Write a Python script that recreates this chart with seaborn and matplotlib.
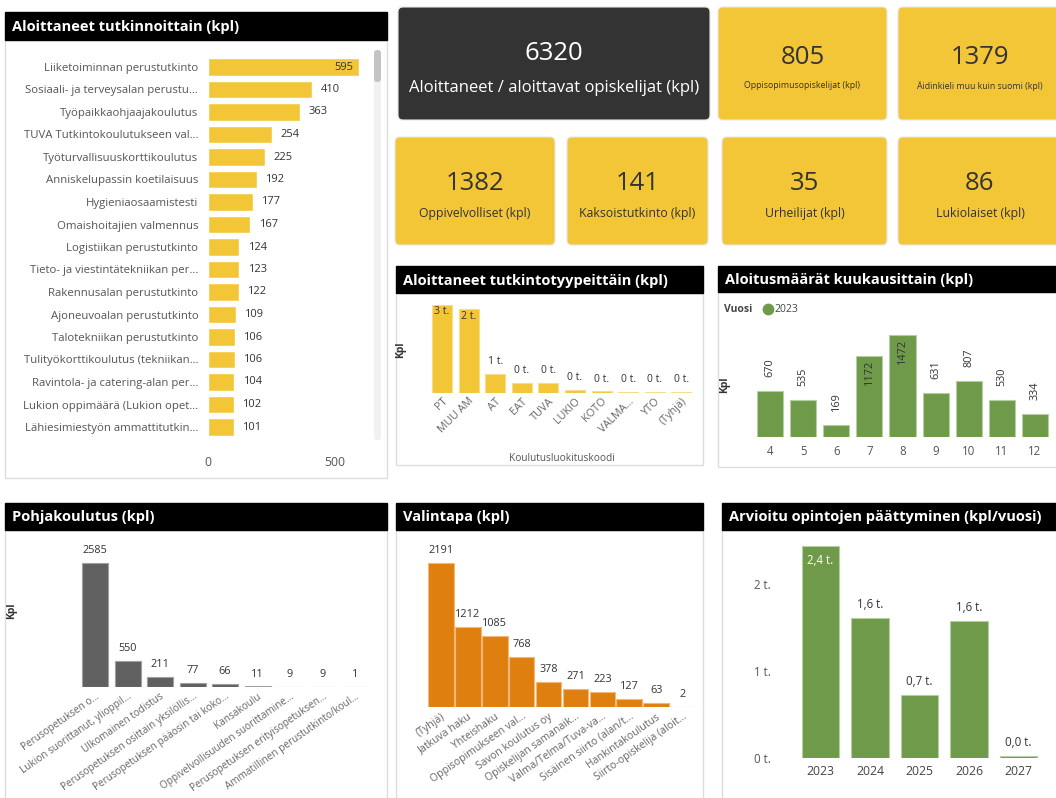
import numpy as np
import pandas as pd
import matplotlib.pyplot as plt
import seaborn as sns
from matplotlib.patches import Rectangle, FancyBboxPatch

W, H = 1056, 798

# data
degree_names = ["Liiketoiminnan perustutkinto", "Sosiaali- ja terveysalan perustu…",
                "Työpaikkaohjaajakoulutus", "TUVA Tutkintokoulutukseen val…",
                "Työturvallisuuskorttikoulutus", "Anniskelupassin koetilaisuus",
                "Hygieniaosaamistesti", "Omaishoitajien valmennus",
                "Logistiikan perustutkinto", "Tieto- ja viestintätekniikan per…",
                "Rakennusalan perustutkinto", "Ajoneuvoalan perustutkinto",
                "Talotekniikan perustutkinto", "Tulityökorttikoulutus (tekniikan…",
                "Ravintola- ja catering-alan per…", "Lukion oppimäärä (Lukion opet…",
                "Lähiesimiestyön ammattitutkin…"]
degree_counts = [595, 410, 363, 254, 225, 192, 177, 167, 124, 123, 122, 109, 106, 106, 104, 102, 101]

kpi_values = [6320, 805, 1379, 1382, 141, 35, 86]
kpi_labels = ["Aloittaneet / aloittavat opiskelijat (kpl)", "Oppisopimusopiskelijat (kpl)",
              "Äidinkieli muu kuin suomi (kpl)", "Oppivelvolliset (kpl)",
              "Kaksoistutkinto (kpl)", "Urheilijat (kpl)", "Lukiolaiset (kpl)"]

type_codes = ["PT", "MUU AM", "AT", "EAT", "TUVA", "LUKIO", "KOTO", "VALMA…", "YTO", "(Tyhjä)"]
type_counts = [2550, 2430, 560, 290, 290, 100, 45, 40, 35, 30]

months = [4, 5, 6, 7, 8, 9, 10, 11, 12]
month_counts = [670, 535, 169, 1172, 1472, 631, 807, 530, 334]

base_names = ["Perusopetuksen o…", "Lukion suorittanut, ylioppil…", "Ulkomainen todistus",
              "Perusopetuksen osittain yksilöllis…", "Perusopetuksen pääosin tai koko…",
              "Kansakoulu", "Oppivelvollisuuden suorittamine…",
              "Perusopetuksen erityisopetuksen…", "Ammatillinen perustutkinto/koul…"]
base_counts = [2585, 550, 211, 77, 66, 11, 9, 9, 1]

select_names = ["(Tyhjä)", "Jatkuva haku", "Yhteishaku", "Oppisopimukseen val…",
                "Savon koulutus oy", "Opiskelijan samanaik…", "Valma/Telma/Tuva-va…",
                "Sisäinen siirto (alan/t…", "Hankintakoulutus", "Siirto-opiskelija (aloit…"]
select_counts = [2191, 1212, 1085, 768, 378, 271, 223, 127, 63, 2]

end_years = [2023, 2024, 2025, 2026, 2027]
end_counts = [2440, 1610, 730, 1580, 25]

YELLOW = "#F3C638"
GREEN = "#6F9A4A"
ORANGE = "#DF7F10"
GRAY = "#606060"
DARK = "#333333"
TXT = "#333333"
TICK = "#666666"

sns.set_theme(style="white")
plt.rcParams["font.family"] = ["Open Sans", "DejaVu Sans"]

fig = plt.figure(figsize=(W / 100, H / 100), dpi=100)
bg = fig.add_axes([0, 0, 1, 1])
bg.set_xlim(0, W)
bg.set_ylim(H, 0)
bg.axis("off")


def place(x0, y0, x1, y1):
    ax = fig.add_axes([x0 / W, 1 - y1 / H, (x1 - x0) / W, (y1 - y0) / H])
    ax.set_facecolor("none")
    return ax


def panel(x0, y0, yb, x1, y1, title):
    bg.add_patch(Rectangle((x0, yb), x1 - x0, y1 - yb, fc="white", ec="#dddddd", lw=1))
    bg.add_patch(Rectangle((x0, y0), x1 - x0, yb - y0, fc="black", ec="black"))
    bg.text(x0 + 7, (y0 + yb) / 2 + 1, title, color="white", fontsize=10.5,
            fontweight="bold", va="center", ha="left")


def card(x0, y0, x1, y1, value, label, fc, tc, vs, ls, vy, ly):
    bg.add_patch(FancyBboxPatch((x0, y0), x1 - x0, y1 - y0, boxstyle="round,pad=0,rounding_size=5",
                                fc=fc, ec="#e6e6e6", lw=0.8))
    cx = (x0 + x1) / 2
    bg.text(cx, vy, str(value), color=tc, fontsize=vs, ha="center", va="center")
    bg.text(cx, ly, label, color=tc, fontsize=ls, ha="center", va="center")


def clean(ax):
    for s in ax.spines.values():
        s.set_visible(False)
    ax.tick_params(length=0)
    ax.set_xlabel("")
    ax.set_ylabel("")


# ---- KPI cards
card(398, 7, 710, 120, kpi_values[0], kpi_labels[0], DARK, "white", 18.5, 12, 53, 88)
card(718, 7, 887, 120, kpi_values[1], kpi_labels[1], YELLOW, TXT, 18.5, 6.3, 57, 86)
card(898, 7, 1062, 120, kpi_values[2], kpi_labels[2], YELLOW, TXT, 18.5, 6.3, 57, 86)
card(395, 137, 555, 245, kpi_values[3], kpi_labels[3], YELLOW, TXT, 18.5, 8.8, 184, 214)
card(567, 137, 708, 245, kpi_values[4], kpi_labels[4], YELLOW, TXT, 18.5, 8.8, 184, 214)
card(722, 137, 887, 245, kpi_values[5], kpi_labels[5], YELLOW, TXT, 18.5, 8.8, 184, 214)
card(898, 137, 1062, 245, kpi_values[6], kpi_labels[6], YELLOW, TXT, 18.5, 8.8, 184, 214)

# ---- panels
panel(5, 12, 40, 387, 478, "Aloittaneet tutkinnoittain (kpl)")
panel(396, 266, 293, 703, 465, "Aloittaneet tutkintotyypeittäin (kpl)")
panel(718, 266, 292, 1060, 467, "Aloitusmäärät kuukausittain (kpl)")
panel(5, 503, 530, 387, 805, "Pohjakoulutus (kpl)")
panel(396, 503, 530, 703, 805, "Valintapa (kpl)")
panel(722, 503, 530, 1060, 805, "Arvioitu opintojen päättyminen (kpl/vuosi)")

# scrollbar
bg.add_patch(FancyBboxPatch((374, 50), 7, 390, boxstyle="round,pad=0,rounding_size=3",
                            fc="#f1f1f1", ec="none"))
bg.add_patch(FancyBboxPatch((374, 50), 7, 32, boxstyle="round,pad=0,rounding_size=3",
                            fc="#c4c4c4", ec="none"))

# ---- degrees (horizontal)
ax = place(208, 55.75, 373, 438.25)
sns.barplot(x=degree_counts, y=degree_names, orient="h", color=YELLOW, width=0.76,
            errorbar=None, ax=ax, saturation=1)
ax.set_xlim(0, 650)
ax.set_xticks([0, 500])
clean(ax)
ax.tick_params(axis="y", pad=7, labelsize=8.2, labelcolor="#555555")
ax.tick_params(axis="x", pad=13, labelsize=8.8, labelcolor="#555555")
for p, v in zip(ax.patches, degree_counts):
    yc = p.get_y() + p.get_height() / 2
    if v == max(degree_counts):
        ax.annotate(str(v), (p.get_width(), yc), xytext=(-4, 0), textcoords="offset points",
                    ha="right", va="center", fontsize=8, color=TXT)
    else:
        ax.annotate(str(v), (p.get_width(), yc), xytext=(6, 0), textcoords="offset points",
                    ha="left", va="center", fontsize=8, color=TXT)

# ---- degree types
ax = place(428.7, 299.8, 694.7, 393)
sns.barplot(x=type_codes, y=type_counts, color=YELLOW, width=0.75, errorbar=None, ax=ax,
            saturation=1, edgecolor="#F7DC8A", linewidth=0.8)
ax.set_ylim(0, 2700)
clean(ax)
ax.set_yticks([])
ax.set_ylabel("Kpl", fontsize=7.5, color=TXT, fontweight="bold")
ax.yaxis.set_label_coords(-0.085, 0.46)
ax.set_xlabel("Koulutusluokituskoodi", fontsize=7.3, color="#555555")
ax.xaxis.set_label_coords(0.5, -0.64)
plt.setp(ax.get_xticklabels(), rotation=45, ha="right", rotation_mode="anchor",
         fontsize=7.8, color=TICK)
ax.tick_params(axis="x", pad=2)
for p, v in zip(ax.patches, type_counts):
    xc = p.get_x() + p.get_width() / 2
    lab = f"{round(v / 1000)} t."
    if v > 2000:
        ax.annotate(lab, (xc, p.get_height()), xytext=(0, -1), textcoords="offset points",
                    ha="center", va="top", fontsize=7.5, color=TXT)
    else:
        ax.annotate(lab, (xc, p.get_height()), xytext=(0, 5), textcoords="offset points",
                    ha="center", va="bottom", fontsize=7.5, color=TXT)

# ---- months
ax = place(753.5, 326, 1051.5, 437)
sns.barplot(x=months, y=month_counts, color=GREEN, width=0.79, errorbar=None, ax=ax,
            saturation=1, edgecolor="#B7CDA4", linewidth=0.8)
ax.set_ylim(0, 1600)
clean(ax)
ax.set_yticks([])
ax.set_ylabel("Kpl", fontsize=7.5, color=TXT, fontweight="bold")
ax.yaxis.set_label_coords(-0.079, 0.47)
ax.tick_params(axis="x", pad=6, labelsize=8.3, labelcolor="#555555")
for p, v in zip(ax.patches, month_counts):
    xc = p.get_x() + p.get_width() / 2
    if v > 1000:
        ax.annotate(str(v), (xc, p.get_height()), xytext=(0, -3), textcoords="offset points",
                    ha="center", va="top", rotation=90, fontsize=7.8, color=TXT)
    else:
        ax.annotate(str(v), (xc, p.get_height()), xytext=(0, 10), textcoords="offset points",
                    ha="center", va="bottom", rotation=90, fontsize=7.8, color=TXT)
bg.text(724, 309, "Vuosi", fontsize=7.5, fontweight="bold", color="#444444", va="center")
bg.plot([768], [309], marker="o", ms=7.5, color=GREEN)
bg.text(774, 309, str(2023), fontsize=7.5, color="#444444", va="center")

# ---- base education
ax = place(78.75, 548, 371.25, 687)
sns.barplot(x=base_names, y=base_counts, color=GRAY, width=0.8, errorbar=None, ax=ax,
            saturation=1, edgecolor="#A0A0A0", linewidth=0.8)
ax.set_ylim(0, 2900)
clean(ax)
ax.set_yticks([])
ax.set_ylabel("Kpl", fontsize=7.5, color=TXT, fontweight="bold")
ax.yaxis.set_label_coords(-0.211, 0.55)
plt.setp(ax.get_xticklabels(), rotation=35, ha="right", rotation_mode="anchor",
         fontsize=7.2, color=TICK)
ax.tick_params(axis="x", pad=3)
for p, v in zip(ax.patches, base_counts):
    xc = p.get_x() + p.get_width() / 2
    ax.annotate(str(v), (xc, p.get_height()), xytext=(0, 5), textcoords="offset points",
                ha="center", va="bottom", fontsize=7.8, color=TXT)

# ---- selection method
ax = place(427.5, 556, 696.5, 707)
sns.barplot(x=select_names, y=select_counts, color=ORANGE, width=0.95, errorbar=None, ax=ax,
            saturation=1, edgecolor="#F2B877", linewidth=0.8)
ax.set_ylim(0, 2300)
clean(ax)
ax.set_yticks([])
plt.setp(ax.get_xticklabels(), rotation=35, ha="right", rotation_mode="anchor",
         fontsize=7.6, color=TICK)
ax.tick_params(axis="x", pad=3)
for p, v in zip(ax.patches, select_counts):
    xc = p.get_x() + p.get_width() / 2
    ax.annotate(str(v), (xc, p.get_height()), xytext=(0, 5), textcoords="offset points",
                ha="center", va="bottom", fontsize=7.8, color=TXT)

# ---- estimated end
ax = place(795.75, 532, 1043.25, 758)
sns.barplot(x=end_years, y=end_counts, color=GREEN, width=0.75, errorbar=None, ax=ax,
            saturation=1, edgecolor="#B7CDA4", linewidth=0.8)
ax.set_ylim(0, 2600)
clean(ax)
ax.set_yticks([0, 1000, 2000])
ax.set_yticklabels(["0 t.", "1 t.", "2 t."])
ax.tick_params(axis="y", pad=18, labelsize=8.3, labelcolor="#555555")
ax.tick_params(axis="x", pad=5, labelsize=8.8, labelcolor="#444444")
for p, v in zip(ax.patches, end_counts):
    xc = p.get_x() + p.get_width() / 2
    lab = f"{v / 1000:.1f} t.".replace(".", ",", 1)
    if v == max(end_counts):
        ax.annotate(lab, (xc, p.get_height()), xytext=(0, -6), textcoords="offset points",
                    ha="center", va="top", fontsize=8.3, color="white")
    else:
        ax.annotate(lab, (xc, p.get_height()), xytext=(0, 5), textcoords="offset points",
                    ha="center", va="bottom", fontsize=8.3, color=TXT)

fig.savefig("out.png", dpi=100)
